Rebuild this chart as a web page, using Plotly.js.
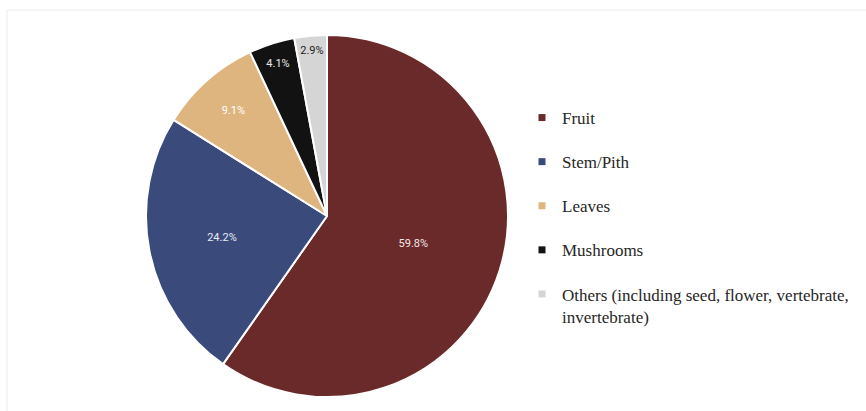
<!DOCTYPE html>
<html>
<head>
<meta charset="utf-8">
<script src="https://cdn.plot.ly/plotly-3.0.1.min.js"></script>
<style>html,body{margin:0;padding:0;background:#fff;}#chart{width:866px;height:411px;}</style>
</head>
<body>
<div id="chart"></div>
<script>
const categories = ["Fruit", "Stem/Pith", "Leaves", "Mushrooms", "Others (including seed, flower, vertebrate,<br>invertebrate)"];
const shares = [59.8, 24.2, 9.1, 4.1, 2.9];
const shareLabels = ["59.8%", "24.2%", "9.1%", "4.1%", "2.9%"];
const colors = ["#6b2a2a", "#3a4a7b", "#dfb57f", "#121212", "#d5d5d5"];
const labelColors = ["#f2e6e6", "#e8ecf5", "#ffffff", "#e8e8e8", "#222222"];

const pie = {
  type: "pie",
  labels: categories,
  values: shares,
  text: shareLabels,
  texttemplate: "%{text}",
  textinfo: "text",
  textposition: "inside",
  insidetextorientation: "horizontal",
  insidetextfont: {family: "Roboto, 'Liberation Sans', sans-serif", size: 11, color: labelColors},
  sort: false,
  direction: "clockwise",
  rotation: 0,
  marker: {colors: colors, line: {color: "#ffffff", width: 2}},
  domain: {x: [146/866, 508/866], y: [(411-397)/411, (411-35)/411]},
  showlegend: false,
  hoverinfo: "none"
};

const legendTraces = categories.map((c, i) => ({
  type: "scatter",
  mode: "markers",
  x: [null], y: [null],
  name: c,
  legendgroup: "g" + i,
  marker: {symbol: "square", size: 7, color: colors[i]},
  showlegend: true,
  hoverinfo: "none"
}));

const layout = {
  width: 866, height: 411,
  margin: {l: 0, r: 0, t: 0, b: 0},
  paper_bgcolor: "#ffffff",
  plot_bgcolor: "#ffffff",
  xaxis: {visible: false, domain: [0.99, 1]},
  yaxis: {visible: false, domain: [0.99, 1]},
  showlegend: true,
  legend: {
    x: 522/866, xanchor: "left",
    y: 1 - 100/411, yanchor: "top",
    valign: "top",
    font: {family: "'Liberation Serif', 'Times New Roman', serif", size: 17, color: "#262626"},
    tracegroupgap: 19,
    bgcolor: "rgba(0,0,0,0)",
    borderwidth: 0
  },
  shapes: [
    {type: "line", xref: "paper", yref: "paper", x0: 7/866, x1: 1, y0: 1 - 10/411, y1: 1 - 10/411, line: {color: "#ececec", width: 1}},
    {type: "line", xref: "paper", yref: "paper", x0: 7/866, x1: 7/866, y0: 0, y1: 1 - 10/411, line: {color: "#ececec", width: 1}}
  ]
};

Plotly.newPlot("chart", [pie].concat(legendTraces), layout, {displayModeBar: false, staticPlot: true});
</script>
</body>
</html>
